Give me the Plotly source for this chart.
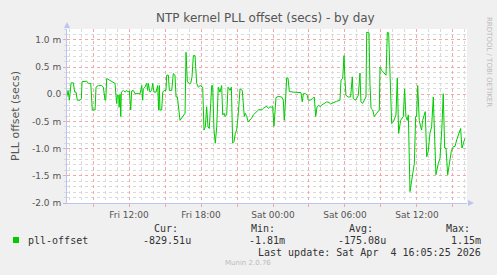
import plotly.graph_objects as go

# hours relative to Sat 00:00
hours = [-17.19,-17.08,-16.97,-16.83,-16.64,-16.53,-16.42,-16.31,-16.08,-15.97,-15.92,-15.53,-15.39,-15.19,-15.06,-14.83,-14.75,-14.56,-14.28,-14.14,-14.00,-13.94,-13.86,-13.64,-13.31,-13.17,-13.03,-12.97,-12.86,-12.83,-12.75,-12.69,-12.64,-12.47,-12.33,-12.19,-12.06,-11.97,-11.86,-11.78,-11.64,-11.50,-11.08,-10.94,-10.86,-10.81,-10.67,-10.53,-10.44,-10.39,-10.31,-10.25,-10.11,-10.03,-9.92,-9.75,-9.61,-9.53,-9.47,-9.42,-9.28,-9.19,-9.08,-8.92,-8.86,-8.72,-8.64,-8.44,-8.31,-8.17,-8.08,-7.97,-7.75,-7.53,-7.33,-7.25,-7.14,-6.97,-6.86,-6.75,-6.64,-6.50,-6.36,-6.22,-6.08,-5.86,-5.75,-5.64,-5.53,-5.42,-5.31,-5.19,-5.11,-5.03,-4.92,-4.81,-4.69,-4.56,-4.42,-4.28,-4.19,-4.08,-4.00,-3.86,-3.75,-3.58,-3.47,-3.36,-3.25,-3.14,-3.03,-2.89,-2.75,-2.56,-2.39,-2.31,-2.19,-2.06,-1.92,-1.78,-1.64,-1.50,-1.36,-1.22,-1.08,-0.94,-0.81,-0.67,-0.53,-0.39,-0.25,-0.11,-0.03,
         0.08,0.25,0.44,0.72,0.86,0.94,1.06,1.14,1.25,1.36,1.69,2.11,2.33,2.44,2.53,2.72,2.86,2.94,3.08,3.31,3.44,3.56,3.67,3.81,3.92,4.06,4.19,4.33,4.47,4.67,4.81,4.97,5.17,5.31,5.58,5.67,5.81,5.92,6.00,6.08,6.28,6.47,6.61,6.69,6.89,7.03,7.11,7.25,7.33,7.47,7.58,7.75,7.81,8.00,8.08,8.17,8.31,8.44,8.64,8.86,8.92,9.06,9.42,9.53,9.64,9.75,9.89,10.03,10.25,10.36,10.47,10.64,10.86,10.97,11.08,11.19,11.28,11.42,11.56,11.78,11.89,11.97,12.06,12.19,12.31,12.39,12.47,12.58,12.69,12.81,12.94,13.08,13.22,13.36,13.47,13.58,13.78,13.92,14.08,14.19,14.31,14.42,14.56,14.69,14.86,15.03,15.17,15.31,15.47,15.64,15.75,15.86,16.00]

# pll offset in milliseconds
offset_ms = [-0.05,0.07,-0.11,0.21,0.21,0.04,0.04,-0.11,-0.11,-0.08,0.23,0.24,0.20,0.20,-0.29,-0.29,0.13,0.16,0.16,0.13,-0.11,-0.11,0.29,0.26,0.21,0.20,-0.17,-0.02,-0.02,-0.24,0.00,-0.41,0.04,0.07,0.04,0.07,0.04,0.06,-0.29,0.06,0.07,0.01,0.01,0.16,-0.11,0.10,0.13,0.20,0.07,0.20,0.10,0.04,0.07,0.20,0.04,0.04,0.16,-0.29,0.16,-0.29,-0.29,0.04,0.07,0.07,0.35,0.35,0.07,0.07,0.38,0.35,-0.05,-0.05,-0.48,-0.41,-0.35,0.77,0.23,0.20,0.20,0.32,0.71,0.71,0.20,0.13,0.16,0.13,-0.66,-0.60,-0.23,-0.60,-0.63,-0.17,0.16,0.16,-0.66,-0.90,-0.60,0.13,0.04,0.16,-0.38,-0.35,-0.41,-0.38,0.13,0.07,0.13,-0.90,-0.87,-0.72,-0.66,-0.35,0.10,0.07,-0.41,-0.35,-0.41,-0.51,-0.48,-0.44,-0.38,-0.35,-0.32,-0.29,-0.28,-0.29,-0.26,-0.24,-0.22,-0.26,-0.23,-0.24,-0.22,
             -0.59,-0.06,-0.04,-0.05,-0.11,-0.48,-0.05,0.30,0.30,0.05,0.04,0.04,0.03,-0.14,0.01,0.01,-0.02,-0.11,-0.11,-0.08,-0.05,-0.41,-0.23,-0.20,-0.23,-0.20,-0.18,-0.17,-0.14,-0.15,-0.18,-0.16,-0.15,-0.13,-0.11,0.26,0.29,0.71,0.26,-0.02,-0.05,-0.05,0.32,-0.08,-0.11,-0.05,-0.02,0.39,-0.14,-0.17,-0.11,-0.05,1.14,1.13,0.20,-0.26,-0.29,-0.41,-0.35,-0.29,0.50,0.44,0.35,1.14,1.13,0.53,-0.54,-0.51,-0.38,0.30,-0.72,-0.48,-0.41,0.10,-0.41,-0.48,-0.38,-1.79,-1.57,-1.27,-0.41,-0.41,0.16,-0.48,-0.60,-0.66,-0.48,-0.41,-0.32,-1.15,-1.05,-0.72,-0.60,-0.05,-0.66,-1.48,-1.27,-1.18,-0.60,0.01,-0.99,-0.99,-1.48,-1.27,-1.05,-0.96,-0.96,-0.84,-0.72,-0.63,-0.99,-0.90,-0.81]

x_tick_vals = [-12, -6, 0, 6, 12]
x_tick_labels = ["Fri 12:00", "Fri 18:00", "Sat 00:00", "Sat 06:00", "Sat 12:00"]
y_tick_vals = [1.0, 0.5, 0.0, -0.5, -1.0, -1.5, -2.0]
y_tick_labels = ["1.0 m", "0.5 m", "0.0", "-0.5 m", "-1.0 m", "-1.5 m", "-2.0 m"]

legend_name = "pll-offset"
stat_heads = ["Cur:", "Min:", "Avg:", "Max:"]
stat_values = ["-829.51u", "-1.81m", "-175.08u", "1.15m"]
last_update = "Last update: Sat Apr  4 16:05:25 2026"
title = "NTP kernel PLL offset (secs) - by day"
y_title = "PLL offset (secs)"
footer = "Munin 2.0.76"
side_text = "RRDTOOL / TOBI OETIKER"

W, H = 497, 275
L, R, T, B = 67, 467, 29, 203
XMIN, XMAX = -17.17, 16.17
YMIN, YMAX = -2.0, 1.2

def px(x):
    return (x - L) / (R - L)

def py(y):
    return (B - y) / (B - T)

# major ticks every 3h, labels only every 6h
maj_vals = list(range(-15, 16, 3))
maj_text = [x_tick_labels[x_tick_vals.index(v)] if v in x_tick_vals else "" for v in maj_vals]

GREEN = "#00CC00"
TXT = "#555555"
MAJ = "#F2A8A8"
MINC = "#DADADA"
AX = "#BCC4F4"

fig = go.Figure()
fig.add_trace(go.Scatter(x=hours, y=offset_ms, mode="lines",
                         line=dict(color=GREEN, width=1), hoverinfo="skip"))

fig.update_layout(
    width=W, height=H,
    margin=dict(l=L, r=W - R, t=T, b=H - B, pad=0),
    paper_bgcolor="#F0F0F0", plot_bgcolor="#FFFFFF",
    showlegend=False,
    font=dict(family="DejaVu Sans", size=9, color=TXT),
)
fig.update_xaxes(
    range=[XMIN, XMAX], tickmode="array", tickvals=maj_vals, ticktext=maj_text,
    showgrid=True, gridcolor=MAJ, griddash="dot", gridwidth=1,
    ticks="outside", ticklen=3, tickcolor=MAJ, tickfont=dict(size=9, color=TXT),
    minor=dict(tick0=0, dtick=1, showgrid=True, gridcolor=MINC, griddash="dot",
               ticks="", gridwidth=1),
    showline=True, linecolor=AX, linewidth=1, zeroline=False, fixedrange=True,
)
fig.update_yaxes(
    range=[YMIN, YMAX], tickmode="array", tickvals=y_tick_vals, ticktext=y_tick_labels,
    showgrid=True, gridcolor=MAJ, griddash="dot", gridwidth=1,
    ticks="outside", ticklen=3, tickcolor=MAJ, tickfont=dict(size=9, color=TXT),
    minor=dict(tick0=0, dtick=0.1, showgrid=True, gridcolor=MINC, griddash="dot",
               ticks="outside", ticklen=2, tickcolor=MINC, gridwidth=1),
    showline=True, linecolor=AX, linewidth=1, zeroline=False, fixedrange=True,
    title=dict(text=y_title, font=dict(size=11, color=TXT), standoff=10),
)

ann = []
ann.append(dict(x=px(265), y=py(18), text=title, font=dict(size=12, color=TXT)))
ann.append(dict(x=px(489), y=py(62), text=side_text, textangle=90,
                font=dict(size=7, color="#BBBBBB")))
mono = "DejaVu Sans Mono"
ann.append(dict(x=px(26), y=py(240), text=legend_name, xanchor="left",
                font=dict(family=mono, size=10, color="#333333")))
head_x = [166, 263, 361, 458]
val_right = [193, 287, 388, 483]
for hx, htxt in zip(head_x, stat_heads):
    ann.append(dict(x=px(hx), y=py(228), text=htxt, font=dict(family=mono, size=10, color="#333333")))
for vx, vtxt in zip(val_right, stat_values):
    ann.append(dict(x=px(vx), y=py(240), text=vtxt, xanchor="right",
                    font=dict(family=mono, size=10, color="#333333")))
ann.append(dict(x=px(483), y=py(252), text=last_update, xanchor="right",
                font=dict(family=mono, size=10, color="#333333")))
ann.append(dict(x=px(248), y=py(263), text=footer, font=dict(size=7, color="#BBBBBB")))
for a in ann:
    a.update(xref="paper", yref="paper", showarrow=False)
    a.setdefault("xanchor", "center")
    a.setdefault("yanchor", "middle")
fig.update_layout(annotations=ann)

shapes = [
    dict(type="rect", xref="paper", yref="paper", x0=px(13), x1=px(19), y0=py(243), y1=py(237),
         fillcolor=GREEN, line=dict(width=0)),
    dict(type="path", xref="paper", yref="paper",
         path=f"M {px(64)} {py(28)} L {px(70)} {py(28)} L {px(67)} {py(22)} Z",
         fillcolor=AX, line=dict(width=0)),
    dict(type="path", xref="paper", yref="paper",
         path=f"M {px(468)} {py(200)} L {px(468)} {py(206)} L {px(474)} {py(203)} Z",
         fillcolor=AX, line=dict(width=0)),
]
fig.update_layout(shapes=shapes)

fig.write_html("out.html", config={"displayModeBar": False, "staticPlot": True})
